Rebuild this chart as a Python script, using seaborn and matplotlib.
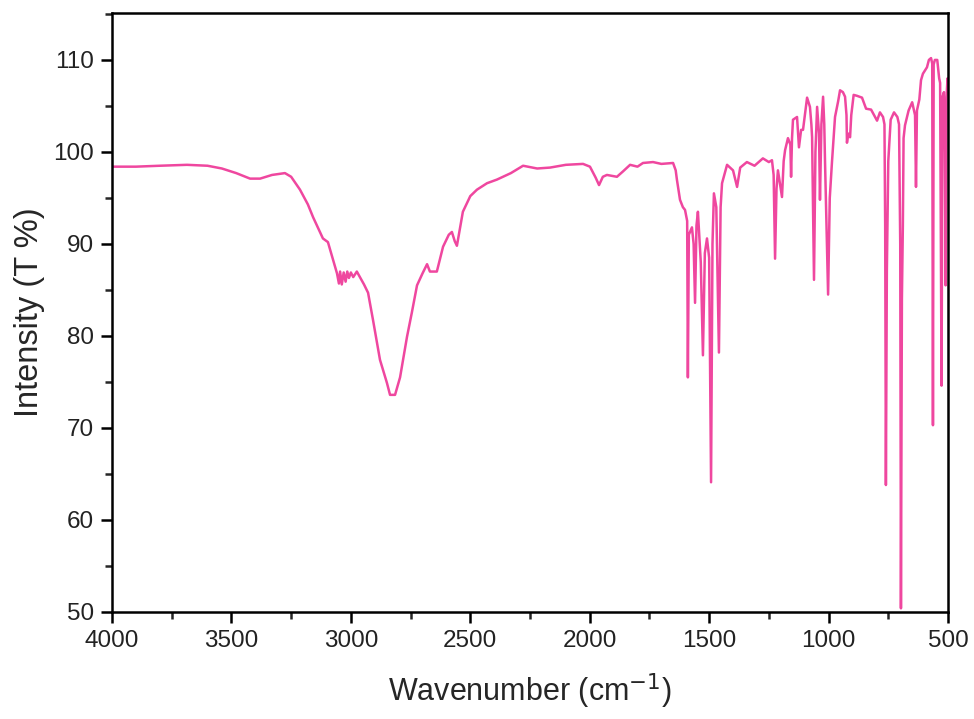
import matplotlib
matplotlib.use("Agg")
import matplotlib.pyplot as plt
import seaborn as sns
import pandas as pd
from matplotlib.ticker import MultipleLocator

sns.set_theme(style="white")
plt.rcParams['font.family'] = ['Liberation Sans', 'DejaVu Sans']

# Wavenumber (cm-1) and transmittance (%)
wavenumber = [
    4000, 3900, 3800, 3686, 3600, 3540, 3480, 3422, 3380, 3330, 3276, 3250,
    3213, 3180, 3158, 3117, 3096, 3075, 3058, 3050, 3045, 3038, 3030, 3022,
    3015, 3008, 3000, 2990, 2975, 2962, 2945, 2928, 2907, 2878, 2849, 2836,
    2815, 2794, 2765, 2745, 2723, 2700, 2681, 2669, 2640, 2614, 2590, 2577,
    2565, 2556, 2531, 2500, 2472, 2430, 2388, 2330, 2279, 2220, 2166, 2100,
    2028, 1999, 1975, 1961, 1945, 1928, 1886, 1860, 1831, 1800, 1777, 1735,
    1700, 1651, 1640, 1635, 1622, 1610, 1601, 1592, 1589, 1585, 1572, 1565,
    1559, 1553, 1547, 1535, 1526, 1518, 1509, 1500, 1492, 1486, 1480, 1470,
    1459, 1452, 1446, 1425, 1400, 1383, 1370, 1342, 1310, 1275, 1250, 1237,
    1230, 1224, 1218, 1212, 1203, 1195, 1188, 1182, 1170, 1160, 1157, 1153,
    1149, 1132, 1124, 1115, 1107, 1090, 1078, 1072, 1069, 1061, 1055, 1048,
    1040, 1036, 1030, 1023, 1018, 1015, 1002, 995, 986, 973, 960, 952,
    940, 931, 925, 923, 918, 910, 905, 895, 881, 860, 843, 822,
    797, 785, 772, 766, 763, 760, 756, 750, 740, 726, 712, 705,
    700, 697, 693, 689, 686, 680, 665, 650, 638, 634, 630, 620,
    613, 605, 588, 580, 571, 566, 563, 560, 555, 545, 537, 533,
    527, 523, 517, 513, 510, 506, 502, 500,
]
transmittance = [
    98.4, 98.4, 98.5, 98.6, 98.5, 98.2, 97.7, 97.1, 97.1, 97.5, 97.7, 97.3,
    95.9, 94.3, 92.9, 90.6, 90.2, 88.3, 86.8, 85.7, 87.0, 85.6, 86.9, 85.9,
    87.0, 86.3, 86.9, 86.4, 87.0, 86.4, 85.6, 84.7, 81.7, 77.4, 74.9, 73.6,
    73.6, 75.5, 79.9, 82.5, 85.5, 86.8, 87.8, 87.0, 87.0, 89.7, 91.0, 91.3,
    90.3, 89.8, 93.5, 95.2, 95.9, 96.6, 97.0, 97.7, 98.5, 98.2, 98.3, 98.6,
    98.7, 98.4, 97.2, 96.4, 97.3, 97.5, 97.3, 97.9, 98.6, 98.4, 98.8, 98.9,
    98.7, 98.8, 98.0, 97.0, 94.8, 94.0, 93.7, 92.5, 75.5, 91.0, 91.8, 90.0,
    83.6, 92.0, 93.5, 88.0, 77.9, 89.0, 90.6, 88.5, 64.1, 90.0, 95.5, 94.0,
    78.2, 94.0, 96.6, 98.6, 98.0, 96.2, 98.3, 98.9, 98.5, 99.3, 98.9, 99.1,
    97.5, 88.4, 96.0, 98.0, 96.5, 95.1, 99.0, 100.2, 101.5, 100.8, 97.3, 101.5,
    103.5, 103.8, 100.5, 102.4, 102.4, 105.9, 104.9, 103.0, 101.6, 86.1, 100.0, 104.9,
    102.0, 94.8, 103.0, 106.0, 103.0, 99.1, 84.5, 95.0, 98.8, 103.8, 105.5, 106.7,
    106.5, 106.0, 104.0, 101.0, 102.0, 101.6, 104.0, 106.2, 106.1, 105.9, 104.7, 104.6,
    103.4, 104.3, 103.8, 103.0, 92.0, 63.8, 87.0, 99.0, 103.5, 104.3, 103.8, 103.0,
    90.0, 50.4, 84.0, 92.0, 101.5, 102.9, 104.5, 105.4, 104.0, 96.2, 104.5, 105.7,
    107.8, 108.5, 109.2, 110.0, 110.2, 109.6, 70.3, 109.5, 110.0, 110.0, 108.0, 107.5,
    74.6, 106.0, 106.5, 100.0, 85.5, 106.0, 108.0, 107.2,
]

x_ticks = [4000, 3500, 3000, 2500, 2000, 1500, 1000, 500]
y_ticks = [50, 60, 70, 80, 90, 100, 110]

df = pd.DataFrame({"wn": wavenumber, "T": transmittance})

fig = plt.figure(figsize=(9.74, 7.19), dpi=100)
ax = fig.add_axes([112 / 974, 1 - 612 / 719, (948 - 112) / 974, (612 - 13) / 719])

sns.lineplot(data=df, x="wn", y="T", ax=ax, sort=False, estimator=None,
             color="#EF479F", linewidth=1.8)

ax.set_xlim(4000, 500)
ax.set_ylim(50, 115.1)
ax.set_xticks(x_ticks)
ax.set_yticks(y_ticks)
ax.xaxis.set_minor_locator(MultipleLocator(250))
ax.yaxis.set_minor_locator(MultipleLocator(5))

ax.tick_params(axis="both", which="major", direction="out", length=8, width=1.8,
               labelsize=17.5, colors="black", bottom=True, left=True,
               top=False, right=False, pad=5)
ax.tick_params(axis="both", which="minor", direction="out", length=5, width=1.8,
               bottom=True, left=True, top=False, right=False)
for lbl in ax.get_xticklabels() + ax.get_yticklabels():
    lbl.set_color("#222222")

for s in ax.spines.values():
    s.set_linewidth(1.8)
    s.set_color("black")

ax.set_xlabel("Wavenumber (cm$^{-1}$)", fontsize=22, labelpad=14)
ax.set_ylabel("Intensity (T %)", fontsize=23.5, labelpad=6)
ax.grid(False)

fig.savefig("out.png", dpi=100)
